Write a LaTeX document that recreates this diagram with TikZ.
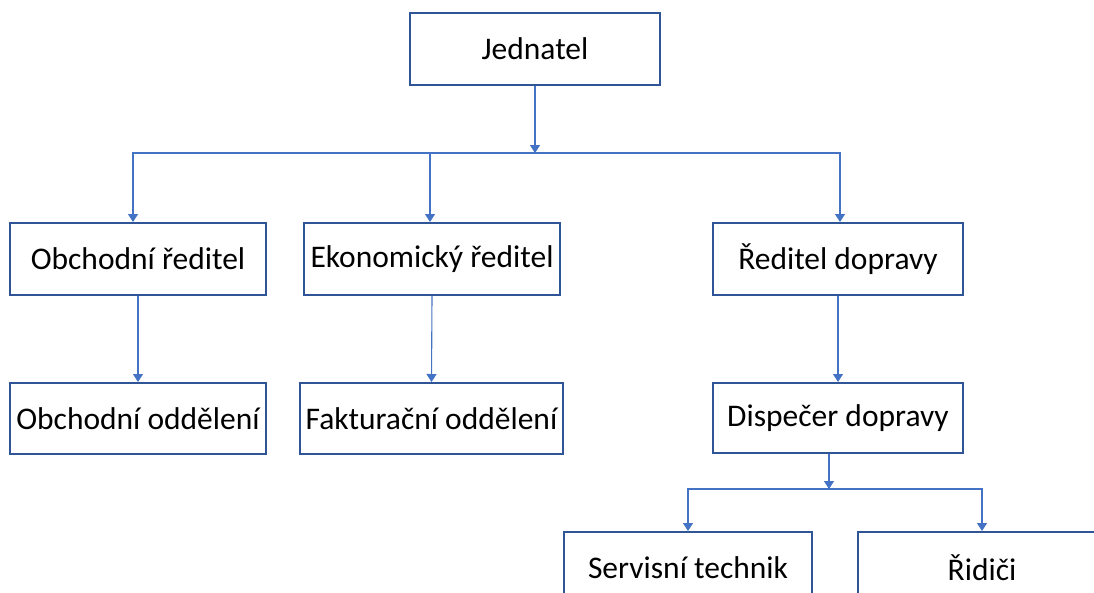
\documentclass[tikz,border=0pt]{standalone}
\usepackage{fontspec}
\setmainfont{Carlito}
\usetikzlibrary{arrows.meta}
\definecolor{boxblue}{HTML}{2F5597}
\definecolor{linkblue}{HTML}{4472C4}
\begin{document}
\begin{tikzpicture}[x=1pt,y=-1pt,
  orgbox/.style={draw=boxblue, line width=2pt, fill=white, rectangle,
    minimum height=72pt, inner sep=0pt,
    font=\fontsize{31.5}{38}\selectfont},
  link/.style={draw=linkblue, line width=1.1pt},
  tolink/.style={link, -{Triangle[width=10pt,length=8pt]}}]
\clip (0,0) rectangle (1094,592);
\fill[white] (0,0) rectangle (1094,592);

% boxes
\node[orgbox, minimum width=250pt] (jed) at (535,49) {Jednatel};
\node[orgbox, minimum width=256pt] (obr) at (138,259) {Obchodní ředitel};
\node[orgbox, minimum width=256pt] (ekr) at (432,259) {Ekonomický ředitel};
\node[orgbox, minimum width=250pt] (red) at (838,259) {Ředitel dopravy};
\node[orgbox, minimum width=256pt, minimum height=71pt] (obo) at (138,418.5) {Obchodní oddělení};
\node[orgbox, minimum width=263pt, minimum height=71pt] (fak) at (431.5,418.5) {Fakturační oddělení};
\node[orgbox, minimum width=250pt, minimum height=70pt] (dis) at (838,418) {Dispečer dopravy};
\node[orgbox, minimum width=248pt] (ser) at (688,568) {Servisní technik};
\node[orgbox, minimum width=248pt] (rid) at (982,568) {Řidiči};

% junction points
\coordinate (bus) at (535,153);
\coordinate (busb) at (829,489);

% connectors
\draw[tolink] (jed.south) -- (bus);
\draw[tolink] (bus) -| ([xshift=-5pt]obr.north);
\draw[tolink] (bus) -| ([xshift=-2pt]ekr.north);
\draw[tolink] (bus) -| ([xshift=2pt]red.north);
\draw[tolink] (obr.south) -- (obo.north);
\draw[tolink] (ekr.south) -- (fak.north);
\draw[tolink] (red.south) -- (dis.north);
\draw[tolink] (dis.south -| busb) -- (busb);
\draw[tolink] (busb) -| (ser.north);
\draw[tolink] (busb) -| (rid.north);
\end{tikzpicture}
\end{document}
